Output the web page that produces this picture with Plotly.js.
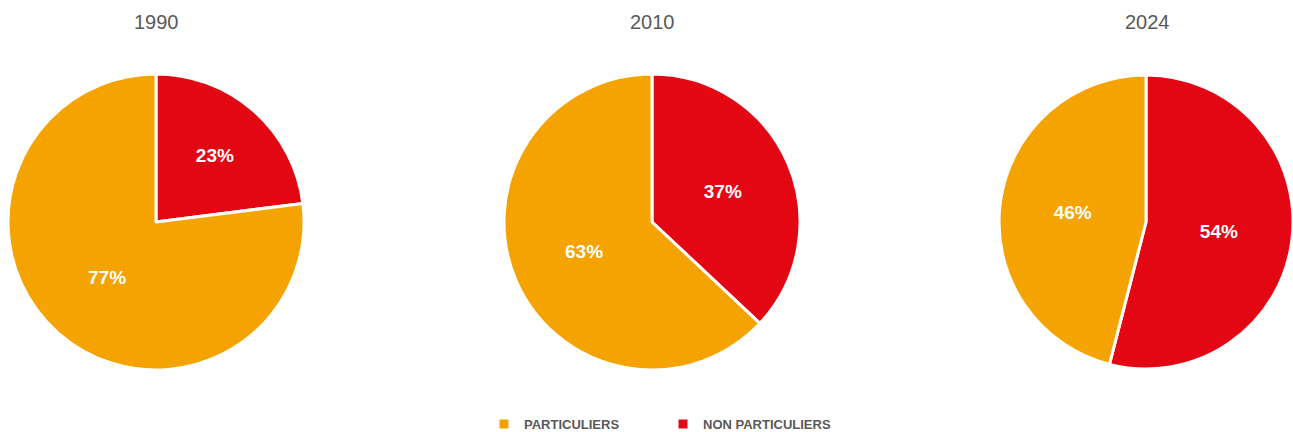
<!DOCTYPE html>
<html>
<head>
<meta charset="utf-8">
<script src="https://cdn.plot.ly/plotly-3.0.1.min.js"></script>
<style>html,body{margin:0;padding:0;background:#fff;}#chart{width:1293px;height:432px;}</style>
</head>
<body>
<div id="chart"></div>
<script>
const years = ['1990', '2010', '2024'];
// slice order: red slice first so it starts at 12 o'clock going clockwise
const labels = ['NON PARTICULIERS', 'PARTICULIERS'];
const nonParticuliers = [23, 37, 54];
const particuliers = [77, 63, 46];
const colors = ['#E30613', '#F5A300'];

const W = 1293, H = 432;
const centers = [156, 652, 1147];
const cy = 222, R = 148;
const titleY = 22, legendY = 424, legendX = 663;
const FONT = 'Liberation Sans, Arial, sans-serif';

function build(s) {
  const fx = px => (px - s.l) / s.w;
  const fy = py => 1 - (py - s.t) / s.h;
  const traces = years.map((y, i) => ({
    type: 'pie',
    name: y,
    labels: labels,
    values: [nonParticuliers[i], particuliers[i]],
    sort: false,
    direction: 'clockwise',
    rotation: 0,
    marker: {colors: colors, line: {color: '#ffffff', width: 3}},
    texttemplate: '%{value}%',
    textposition: 'inside',
    insidetextorientation: 'horizontal',
    textfont: {family: FONT, size: 19, color: '#ffffff', weight: 'bold'},
    hoverinfo: 'label+value',
    domain: {
      x: [Math.max(0, fx(centers[i] - R)), Math.min(1, fx(centers[i] + R))],
      y: [fy(cy + R), fy(cy - R)]
    },
    showlegend: i === 0
  }));
  const annotations = years.map((y, i) => ({
    text: y, x: fx(centers[i]), y: fy(titleY), xref: 'paper', yref: 'paper',
    xanchor: 'center', yanchor: 'middle', showarrow: false,
    font: {family: FONT, size: 20, color: '#595959'}
  }));
  const layout = {
    width: W, height: H,
    margin: {l: 0, r: 0, t: 0, b: 0},
    paper_bgcolor: '#ffffff',
    annotations: annotations,
    showlegend: true,
    legend: {
      orientation: 'h', traceorder: 'reversed',
      xref: 'container', yref: 'container',
      x: legendX / W, xanchor: 'center', y: 1 - legendY / H, yanchor: 'middle',
      font: {family: FONT, size: 13, color: '#595959', weight: 'bold'},
      itemwidth: 30, entrywidth: 134, entrywidthmode: 'pixels'
    }
  };
  return {traces, layout};
}

const gd = document.getElementById('chart');
const cfg = {displayModeBar: false, staticPlot: true};
const first = build({l: 0, t: 0, w: W, h: H});
Plotly.newPlot(gd, first.traces, first.layout, cfg);
const sz = gd._fullLayout._size;
const second = build({l: sz.l, t: sz.t, w: sz.w, h: sz.h});
Plotly.react(gd, second.traces, second.layout, cfg);
</script>
</body>
</html>
